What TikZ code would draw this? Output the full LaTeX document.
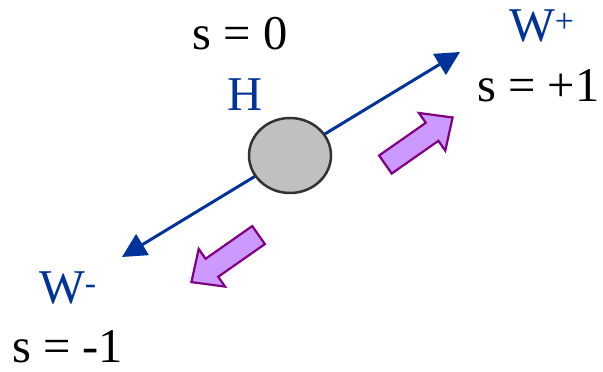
\documentclass[tikz,border=0pt]{standalone}
\usepackage{fontspec}
\setmainfont{Liberation Serif}
\usetikzlibrary{arrows.meta,shapes.geometric}
\definecolor{wblue}{HTML}{003399}
\definecolor{spinlilac}{HTML}{CC99FF}
\definecolor{spinpurple}{HTML}{800080}
\definecolor{higgsgray}{HTML}{C0C0C0}
\definecolor{higgsedge}{HTML}{333333}
\newcommand{\spinarrow}[2]{%
  \draw[spinpurple, line width=2.2pt, fill=spinlilac, line join=miter, shift={#1}, rotate=#2]
    (-41,-11) -- (16,-11) -- (16,-23) -- (41,0) -- (16,23) -- (16,11) -- (-41,11) -- cycle;}

\begin{document}
\begin{tikzpicture}[x=1pt, y=1pt,
  lbl/.style={inner sep=0pt, font=\fontsize{48.5}{52}\selectfont},
  wline/.style={wblue, line width=3pt, {Triangle[length=24pt, width=24pt]}-{Triangle[length=24pt, width=24pt]}}]
  \useasboundingbox[fill=white] (0,0) rectangle (603,372);
  % W line through the Higgs
  \coordinate (tipminus) at (122,115);
  \coordinate (tipplus) at (460,320);
  \draw[wline] (tipminus) -- (tipplus);
  \node[ellipse, draw=higgsedge, line width=2.5pt, fill=higgsgray, minimum width=82pt, minimum height=75pt] (higgs) at (290,216.5) {};
  % labels
  \node[lbl, anchor=base] (spinzero) at (240,322) {s = 0};
  \node[lbl, anchor=base, text=wblue] (hlabel) at (245.5,261) {H};
  \node[lbl, anchor=base west, text=wblue] (wplus) at (509,330) {W\textsuperscript{+}};
  \node[lbl, anchor=base west] (spinplus) at (477,270) {s = +1};
  \node[lbl, anchor=base west, text=wblue] (wminus) at (39,68) {W\textsuperscript{-}};
  \node[lbl, anchor=base west] (spinminus) at (12,9) {s = -1};
  % spin arrows
  \spinarrow{(419,231)}{35}
  \spinarrow{(225,113.4)}{215}
\end{tikzpicture}
\end{document}
